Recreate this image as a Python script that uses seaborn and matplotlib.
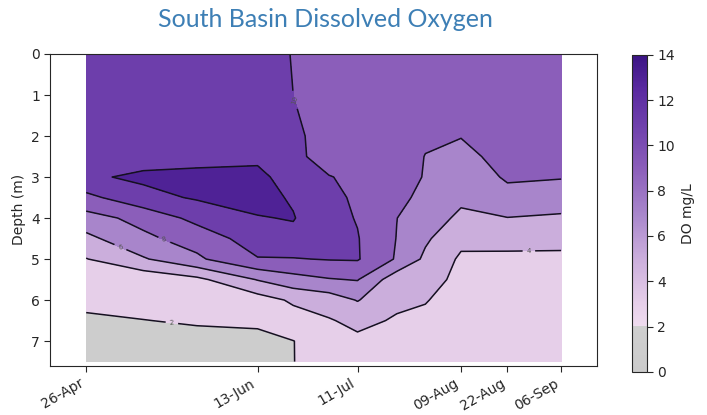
import numpy as np
import pandas as pd
import seaborn as sns
import matplotlib
matplotlib.use("Agg")
import matplotlib.pyplot as plt
import matplotlib.dates as mdates
from matplotlib.colors import LinearSegmentedColormap, Normalize
from matplotlib.cm import ScalarMappable

# sampling dates and depths (m)
sample_dates = ["2019-04-26", "2019-05-12", "2019-05-27", "2019-06-13", "2019-06-23", "2019-07-03",
                "2019-07-11", "2019-07-22", "2019-07-30", "2019-08-09", "2019-08-22", "2019-09-06"]
depths = [0, 1, 2, 2.5, 3, 3.5, 4, 4.5, 5, 5.5, 6, 6.5, 7, 7.5]

# dissolved oxygen profiles (mg/L), one list per sampling date, top to bottom
do_0426 = [11.2, 11.3, 11.4, 11.5, 11.7, 9.46, 7.26, 5.48, 3.93, 3.2, 2.47, 1.7, 1.45, 1.2]
do_0512 = [11.1, 11.1, 11.1, 11.2, 12.36, 11.4, 8.6, 7.6, 5.8, 2.6, 2.35, 1.98, 1.6, 1.3]
do_0527 = [11.1, 11.1, 11.2, 11.5, 12.4, 12.2, 10.6, 8.8, 7.66, 3.51, 2.8, 2.1, 1.7, 1.4]
do_0613 = [11.0, 11.1, 11.3, 11.6, 12.5, 12.6, 11.9, 11.0, 9.89, 6.1, 3.1, 2.2, 1.7, 1.5]
do_0623 = [9.9, 10.0, 10.4, 10.6, 11.1, 11.8, 12.1, 11.5, 9.9, 7.26, 4.3, 3.15, 1.97, 1.98]
do_0703 = [9.3, 9.3, 9.2, 9.0, 10.1, 10.5, 10.6, 10.5, 10.1, 7.87, 4.95, 3.85, 2.9, 2.5]
do_0711 = [9.2, 9.2, 9.3, 9.4, 9.5, 9.7, 9.9, 10.1, 10.15, 8.1, 6.1, 4.5, 3.6, 3.2]
do_0722 = [9.2, 9.2, 9.1, 9.0, 8.7, 8.4, 8.02, 7.95, 7.8, 4.8, 4.4, 3.8, 3.3, 3.0]
do_0730 = [9.2, 9.0, 8.3, 7.95, 7.9, 7.6, 7.0, 6.3, 5.6, 4.9, 4.1, 3.6, 3.2, 3.0]
do_0809 = [9.1, 8.8, 8.05, 7.6, 7.0, 6.4, 5.6, 4.5, 3.7, 3.4, 3.2, 3.0, 2.9, 2.8]
do_0822 = [9.2, 9.0, 8.8, 8.5, 8.2, 7.5, 5.95, 4.8, 3.5, 3.2, 3.0, 2.9, 2.8, 2.7]
do_0906 = [9.3, 9.2, 8.9, 8.6, 8.1, 7.1, 5.7, 4.7, 3.5, 3.2, 3.0, 2.9, 2.8, 2.7]

tick_dates = ["2019-04-26", "2019-06-13", "2019-07-11", "2019-08-09", "2019-08-22", "2019-09-06"]
line_levels = [2, 4, 6, 8, 10, 12]

# long table -> grid
profiles = [do_0426, do_0512, do_0527, do_0613, do_0623, do_0703,
            do_0711, do_0722, do_0730, do_0809, do_0822, do_0906]
rows = []
for d, prof in zip(sample_dates, profiles):
    for z, v in zip(depths, prof):
        rows.append({"date": pd.Timestamp(d), "depth": z, "do": v})
df = pd.DataFrame(rows)
grid = df.pivot(index="depth", columns="date", values="do")
X = mdates.date2num(grid.columns.to_pydatetime())
Y = grid.index.values
Z = grid.values

# colour map: grey below 2 mg/L, then pink -> deep purple
cmap_stops = [0, 1.99, 2, 3, 5, 7, 9, 11, 12.5, 14]
cmap_cols = ["#cbcbcb", "#cfcfcf", "#efdcef", "#e6cfe9", "#cbaedc", "#a886cb",
             "#8b5eba", "#6d3eab", "#5a2aa0", "#3b1484"]
cmap = LinearSegmentedColormap.from_list("do", list(zip(np.array(cmap_stops) / 14, cmap_cols)))
norm = Normalize(0, 14)

sns.set_style("ticks")
plt.rcParams["font.family"] = ["DejaVu Sans"]
fig = plt.figure(figsize=(7.07, 4.15), dpi=100)
ax = fig.add_axes([0.0714, 0.1188, 0.7726, 0.7511])
cax = fig.add_axes([0.894, 0.104, 0.0212, 0.764])

cf = ax.contourf(X, Y, Z, levels=np.arange(0, 14.01, 2), cmap=cmap, norm=norm)
cs = ax.contour(X, Y, Z, levels=line_levels, colors="#151020", linewidths=1.1)
lab_pos = [(mdates.date2num(pd.Timestamp(d)), z) for d, z in
           [("2019-06-24", 1.1), ("2019-05-18", 4.5), ("2019-05-06", 4.6),
            ("2019-08-28", 4.78), ("2019-05-20", 6.56)]]
ax.clabel(cs, fmt="%d", fontsize=5, colors="#555555", manual=lab_pos, inline=True)

ax.set_xlim(X[0] - 10, X[-1] + 10)
ax.set_ylim(7.6, 0)
ax.set_yticks(range(0, 8))
ax.set_xticks(mdates.date2num(pd.to_datetime(tick_dates).to_pydatetime()))
ax.xaxis.set_major_formatter(mdates.DateFormatter("%d-%b"))
plt.setp(ax.get_xticklabels(), rotation=30, ha="right")
ax.tick_params(labelsize=10, length=4, width=0.8)
ax.set_ylabel("Depth (m)", fontsize=10)
for s in ax.spines.values():
    s.set_linewidth(0.8)

# smooth colour bar, like the original
cb = fig.colorbar(ScalarMappable(norm=norm, cmap=cmap), cax=cax, ticks=np.arange(0, 15, 2))
cb.set_label("DO mg/L", fontsize=10)
cb.ax.tick_params(labelsize=10, length=4, width=0.8)
cb.outline.set_linewidth(0.8)

fig.text(0.46, 0.952, "South Basin Dissolved Oxygen", ha="center", va="center",
         color="#3d7fb5", fontsize=18, family="Lato")

fig.savefig("out.png", dpi=100)
